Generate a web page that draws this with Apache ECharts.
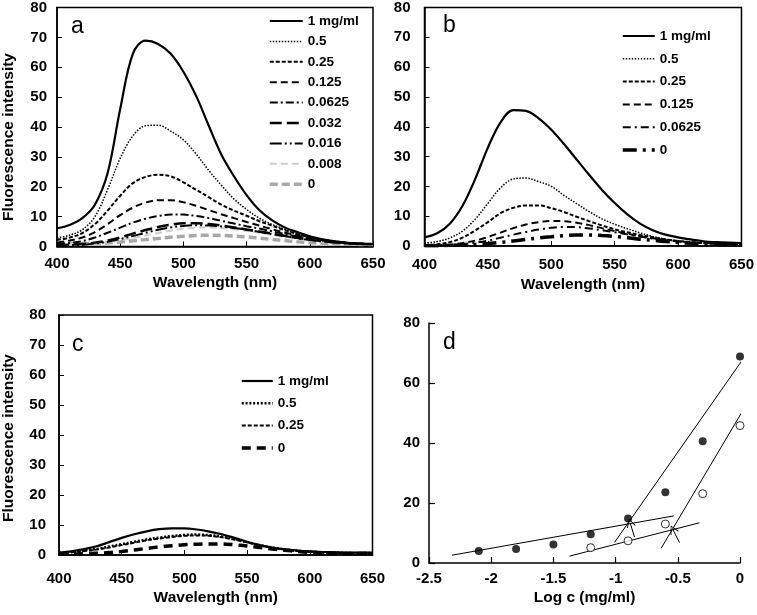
<!DOCTYPE html>
<html><head><meta charset="utf-8">
<script src="https://cdn.jsdelivr.net/npm/echarts@6/dist/echarts.min.js"></script>
<style>html,body{margin:0;padding:0;background:#fff}#c{width:757px;height:615px}</style>
</head><body><div id="c"></div>
<script>
// ---------- DATA ----------
const wavelength = [400,410,420,430,440,450,460,470,480,490,500,510,520,530,540,550,560,570,580,590,600,610,620,630,640,650];

const aLabels = ['1 mg/ml','0.5','0.25','0.125','0.0625','0.032','0.016','0.008','0'];
const a1     = [6.1,7.2,9.5,14,24.5,46,64.5,68.9,67.8,64.5,58.5,50.5,40.5,30.8,23.5,17.2,12.2,8.8,6.4,4.8,3.4,2.4,1.7,1.2,0.9,0.8];
const a05    = [2.8,3.8,5.6,10,19,29.5,37,40.4,40.6,38.6,35.7,31,25.5,20.5,15.9,12.4,9.5,7.4,5.8,4.3,3.1,2.3,1.7,1.2,0.9,0.8];
const a025   = [2.2,3,4.5,7.5,12,17,21.2,23.3,24,23.5,21.5,19,16.5,14,12,10.3,8.5,7,5.5,4.2,3.1,2.3,1.7,1.2,0.9,0.8];
const a0125  = [1.3,2,3,4.8,7.5,10.5,13,14.7,15.5,15.5,14.8,13.6,12.2,10.8,9.5,8.2,7,5.8,4.7,3.7,2.8,2.1,1.6,1.2,0.9,0.8];
const a00625 = [0.8,1.2,1.8,3,4.6,6.3,8,9.3,10.2,10.7,10.7,10.2,9.5,8.6,7.7,6.8,6,5.1,4.2,3.4,2.6,2,1.5,1.1,0.9,0.8];
const a0032  = [0.5,0.6,0.8,1.3,2,3,4.3,5.5,6.5,7.3,7.8,7.8,7.5,7,6.4,5.7,5,4.3,3.6,2.9,2.3,1.8,1.4,1.1,0.9,0.8];
const a0016  = [0.4,0.5,0.6,1,1.6,2.5,3.5,4.6,5.6,6.4,6.9,7.1,7,6.7,6.2,5.6,4.9,4.2,3.5,2.8,2.2,1.7,1.3,1,0.9,0.8];
const a0008  = [0.8,0.8,0.8,1,1.3,2,2.8,3.7,4.5,5.3,5.9,6.3,6.4,6.2,5.8,5.2,4.6,3.9,3.2,2.6,2,1.6,1.2,1,0.9,0.8];
const a0     = [1.3,1.1,1,1.1,1.2,1.5,1.9,2.3,2.7,3.1,3.4,3.7,3.8,3.7,3.5,3.2,2.8,2.4,2,1.6,1.3,1.1,0.9,0.8,0.7,0.7];

const bLabels = ['1 mg/ml','0.5','0.25','0.125','0.0625','0'];
const b1     = [2.9,4.3,7.5,13.5,22.5,33,41.5,45.6,45.3,42.8,39,34.2,29,23.8,18.8,14.4,10.6,7.5,5.3,3.8,2.9,2.2,1.6,1.3,1.1,1.0];
const b05    = [0.9,1.5,2.7,5,9,14.3,19.5,22.5,22.8,21.6,20,17,14.2,11.5,9.1,7.3,5.8,4.4,3.2,2.3,1.7,1.3,1,0.8,0.7,0.6];
const b025   = [0.3,0.6,1.3,2.8,5.2,8,11,12.8,13.6,13.6,12.7,11.4,9.8,8.3,6.9,5.6,4.6,3.7,2.9,2.2,1.7,1.3,1,0.8,0.7,0.6];
const b0125  = [0.2,0.3,0.5,1,1.8,3,4.5,6,7.2,8,8.4,8.3,7.8,7,6,5,4.1,3.3,2.6,2,1.6,1.2,1,0.8,0.7,0.6];
const b00625 = [0.2,0.2,0.3,0.6,1.1,1.8,2.8,3.8,4.7,5.5,6.1,6.4,6.3,5.9,5.3,4.6,3.9,3.2,2.5,2,1.5,1.2,0.9,0.8,0.7,0.6];
const b0     = [0.1,0.1,0.2,0.3,0.5,0.8,1.2,1.7,2.2,2.7,3.1,3.5,3.7,3.7,3.5,3.2,2.8,2.3,1.9,1.5,1.2,0.9,0.7,0.6,0.5,0.5];

const cLabels = ['1 mg/ml','0.5','0.25','0'];
const c1   = [0.8,1.2,2,2.9,4.3,5.7,6.9,7.9,8.6,8.9,8.9,8.5,7.8,6.9,5.7,4.4,3.3,2.5,1.9,1.5,1.2,1,0.9,0.8,0.8,0.8];
const c05  = [0.7,1,1.5,2,2.8,3.6,4.4,5.2,5.8,6.3,6.7,6.8,6.6,6.1,5.3,4.3,3.3,2.5,1.9,1.4,1.1,0.9,0.8,0.7,0.7,0.7];
const c025 = [0.6,0.9,1.3,1.8,2.5,3.3,4.1,4.9,5.5,6,6.4,6.5,6.4,5.9,5.1,4.2,3.2,2.4,1.8,1.3,1,0.8,0.7,0.6,0.6,0.6];
const c0   = [0.3,0.3,0.4,0.6,0.8,1.2,1.7,2.2,2.7,3.1,3.4,3.6,3.7,3.7,3.4,3,2.5,2,1.6,1.2,0.9,0.7,0.6,0.5,0.5,0.5];

const dLogCFilled = [-2.1,-1.8,-1.5,-1.2,-0.9,-0.6,-0.3,0];
const dFilled     = [4,4.7,6.2,9.6,14.8,23.6,40.6,68.8];
const dLogCOpen   = [-1.2,-0.9,-0.6,-0.3,0];
const dOpen       = [5.1,7.4,13,23.1,45.8];
const fitFilledLow  = [[-2.315,2.6],[-0.532,15.7]];
const fitFilledHigh = [[-1.008,6.9],[0.094,72.1]];
const fitOpenLow    = [[-1.37,2.3],[-0.326,13.4]];
const fitOpenHigh   = [[-0.634,4.9],[0.044,52.3]];
const arrowFilled = [[-0.848,8.6],[-0.883,13.4]];
const arrowOpen   = [[-0.486,6.8],[-0.54,11.2]];

const xTicksNm = [400,650,50];
const yTicksSpec = [0,80,10];
const xTicksLog = [-2.5,0,0.5];
const yTicksD = [0,80,20];

// ---------- STYLES ----------
const FONT = '"Liberation Sans", Arial, Helvetica, sans-serif';
const BLACK = '#000';
const stylesA = [
  {type:'solid', width:2.2, color:BLACK},
  {type:[1.5,1.5], width:1.5, color:BLACK},
  {type:[4,2], width:2, color:BLACK},
  {type:[7,4], width:2, color:BLACK},
  {type:[8,3,2,3], width:2, color:BLACK},
  {type:[12,5], width:2.5, color:BLACK},
  {type:[12,3,2,3,2,3], width:2, color:BLACK},
  {type:[7,4], width:2, color:'#cdcdcd'},
  {type:[8,4], width:3.5, color:'#a8a8a8'}
];
const stylesB = [
  {type:'solid', width:2.2, color:BLACK},
  {type:[1.5,1.5], width:1.5, color:BLACK},
  {type:[4,2], width:2, color:BLACK},
  {type:[7,4], width:2, color:BLACK},
  {type:[8,4,2,4], width:2, color:BLACK},
  {type:[14,6,3,6], width:3.5, color:BLACK}
];
const stylesC = [
  {type:'solid', width:2.2, color:BLACK},
  {type:[2,1.8], width:2.5, color:BLACK},
  {type:[4,2], width:2, color:BLACK},
  {type:[9,6], width:3.5, color:BLACK}
];

const grids = [
  {left:54, top:6.5, width:319, height:240},
  {left:424.5, top:6, width:319.5, height:240},
  {left:56.5, top:315, width:316, height:240},
  {left:429, top:323, width:311, height:240}
];

function lbl(size){ return {fontFamily:FONT, fontWeight:'bold', fontSize:size, color:BLACK}; }

function specX(i, margin, nameGap){
  return {gridIndex:i, type:'value', min:xTicksNm[0], max:xTicksNm[1], interval:xTicksNm[2],
    name:'Wavelength (nm)', nameLocation:'middle', nameGap:nameGap, nameTextStyle:lbl(15.5),
    axisLine:{show:true, onZero:false, lineStyle:{color:BLACK, width:1.5}},
    axisTick:{show:true, inside:true, length:5, lineStyle:{color:BLACK, width:1}},
    axisLabel:Object.assign({margin:margin}, lbl(15)), splitLine:{show:false}};
}
function specY(i, margin, withName, pad){
  const o = {gridIndex:i, type:'value', min:yTicksSpec[0], max:yTicksSpec[1], interval:yTicksSpec[2],
    axisLine:{show:true, lineStyle:{color:BLACK, width:1.5}},
    axisTick:{show:true, inside:true, length:5, lineStyle:{color:BLACK, width:1}},
    axisLabel:Object.assign({margin:margin}, lbl(15)), splitLine:{show:false}};
  if (withName){
    o.name = 'Fluorescence intensity'; o.nameLocation='middle'; o.nameGap = withName;
    o.nameTextStyle = Object.assign({padding:pad}, lbl(15.5));
  }
  return o;
}

const series = [];
const legends = [];
function addPanel(prefix, idx, labels, arrays, styles, legendPos){
  const legendData = [];
  labels.forEach((lab, k) => {
    const name = prefix + '|' + lab;
    const st = styles[k];
    series.push({
      type:'line', name:name, xAxisIndex:idx, yAxisIndex:idx,
      data: wavelength.map((w, j) => [w, arrays[k][j]]),
      symbol:'none', smooth:0.35, color:st.color,
      lineStyle:{type:st.type, width:st.width, color:st.color},
      z: 10 + (labels.length - k)
    });
    legendData.push({name:name, lineStyle:{width:st.width, type:st.type, color:st.color},
      itemStyle:{opacity:0, color:'rgba(0,0,0,0)', borderWidth:0}});
  });
  legends.push(Object.assign({
    data:legendData, orient:'vertical', selectedMode:false,
    formatter: n => n.split('|')[1],
    itemHeight:14, textStyle:Object.assign({lineHeight:14}, lbl(13.5)), padding:0
  }, legendPos));
}
addPanel('a', 0, aLabels, [a1,a05,a025,a0125,a00625,a0032,a0016,a0008,a0], stylesA,
  {left:268, top:14, itemWidth:33, itemGap:6.4});
addPanel('b', 1, bLabels, [b1,b05,b025,b0125,b00625,b0], stylesB,
  {left:621, top:29, itemWidth:32, itemGap:8.8});
addPanel('c', 2, cLabels, [c1,c05,c025,c0], stylesC,
  {left:240, top:374, itemWidth:31, itemGap:8.3});

// panel d
const thin = {color:BLACK, width:1};
[fitFilledLow, fitFilledHigh, fitOpenLow, fitOpenHigh].forEach(f => {
  series.push({type:'line', xAxisIndex:3, yAxisIndex:3, data:f, symbol:'none', clip:false,
    lineStyle:thin, color:BLACK, z:5});
});
series.push({type:'lines', coordinateSystem:'cartesian2d', xAxisIndex:3, yAxisIndex:3,
  data:[{coords:arrowFilled},{coords:arrowOpen}],
  symbol:['none','path://M0,0 L6,10 L5,10.8 L0,1.8 L-5,10.8 L-6,10 Z'], symbolSize:[8,9],
  lineStyle:{color:BLACK, width:1, opacity:1}, itemStyle:{color:BLACK}, z:6});
series.push({type:'scatter', xAxisIndex:3, yAxisIndex:3,
  data:dLogCFilled.map((x,i)=>[x,dFilled[i]]), symbol:'circle', symbolSize:8,
  itemStyle:{color:BLACK}, z:8});
series.push({type:'scatter', xAxisIndex:3, yAxisIndex:3,
  data:dLogCOpen.map((x,i)=>[x,dOpen[i]]), symbol:'circle', symbolSize:8,
  itemStyle:{color:'#fff', borderColor:BLACK, borderWidth:1}, z:8});

const chart = echarts.init(document.getElementById('c'), null, {renderer:'canvas'});
chart.setOption({
  backgroundColor:'#fff',
  animation:false,
  grid: grids.map((g,i) => Object.assign({show:i<3, borderColor:BLACK, borderWidth:1.5, backgroundColor:'transparent'}, g)),
  xAxis:[
    specX(0, 9.5, 28.5),
    specX(1, 11, 31),
    specX(2, 16, 35),
    {gridIndex:3, type:'value', min:xTicksLog[0], max:xTicksLog[1], interval:xTicksLog[2],
     name:'Log c (mg/ml)', nameLocation:'middle', nameGap:27, nameTextStyle:lbl(15.5),
     axisLine:{show:true, onZero:false, lineStyle:{color:BLACK, width:1.5}},
     axisTick:{show:true, inside:true, length:6, lineStyle:{color:BLACK, width:1.2}},
     axisLabel:Object.assign({margin:8}, lbl(15)), splitLine:{show:false}}
  ],
  yAxis:[
    specY(0, 10, 40, [0,20,0,0]),
    specY(1, 14, 0),
    specY(2, 13, 42, [0,6,0,0]),
    {gridIndex:3, type:'value', min:yTicksD[0], max:yTicksD[1], interval:yTicksD[2],
     axisLine:{show:true, onZero:false, lineStyle:{color:BLACK, width:1.5}},
     axisTick:{show:true, inside:true, length:6, lineStyle:{color:BLACK, width:1.2}},
     axisLabel:Object.assign({margin:9}, lbl(15)), splitLine:{show:false}}
  ],
  legend: legends,
  graphic: [
    {type:'text', left:71, top:15, style:{text:'a', font:'23px ' + FONT, fill:BLACK}},
    {type:'text', left:443, top:14, style:{text:'b', font:'23px ' + FONT, fill:BLACK}},
    {type:'text', left:72, top:333, style:{text:'c', font:'23px ' + FONT, fill:BLACK}},
    {type:'text', left:443, top:331, style:{text:'d', font:'23px ' + FONT, fill:BLACK}}
  ],
  series: series
});
</script></body></html>
